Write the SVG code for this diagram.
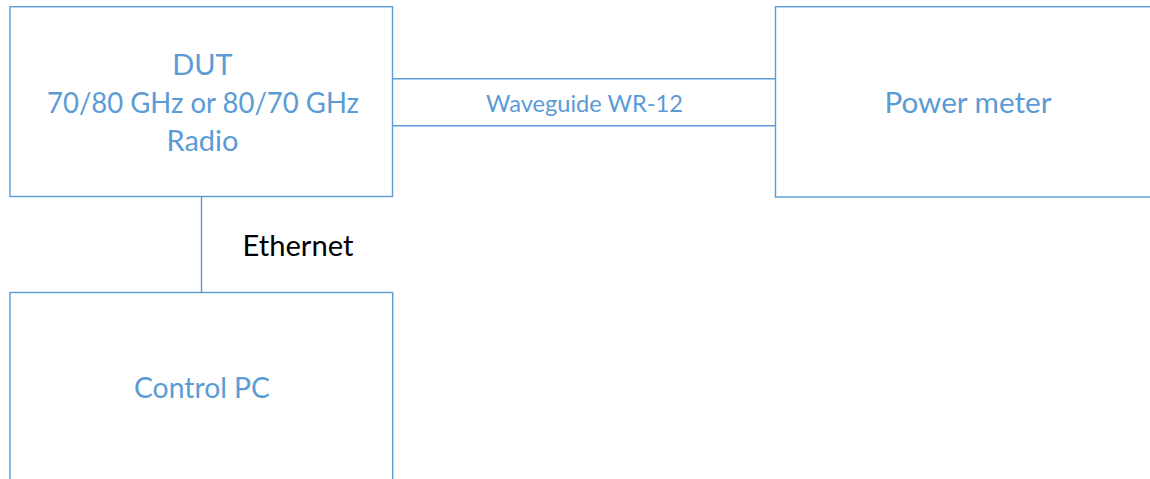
<svg xmlns="http://www.w3.org/2000/svg" width="1150" height="479" viewBox="0 0 1150 479">
  <style>
    .box { fill: #ffffff; stroke: #5B9BD5; stroke-width: 1.4; }
    .wire { fill: none; stroke: #5B9BD5; stroke-width: 1.4; }
    .lbl { font-family: Lato, "Open Sans", "Liberation Sans", sans-serif; fill: #5B9BD5; text-anchor: middle; }
    .big { font-size: 29px; }
    .small { font-size: 24px; }
    .dark { fill: #000000; }
  </style>
  <rect width="1150" height="479" fill="#ffffff"/>

  <!-- connectors -->
  <g id="connectors">
    <path class="wire" d="M392,78.7 H775.5 M392,125.7 H775.5"/>
    <path class="wire" d="M201.5,196.5 V292.5"/>
    <text class="lbl small" x="584.5" y="111.5" textLength="197" lengthAdjust="spacingAndGlyphs">Waveguide WR-12</text>
    <text class="lbl big dark" x="298" y="256" textLength="111" lengthAdjust="spacingAndGlyphs">Ethernet</text>
  </g>

  <!-- device under test -->
  <g id="dut">
    <rect class="box" x="10" y="6.7" width="382.5" height="189.8"/>
    <text class="lbl big" x="202.5" y="75">DUT</text>
    <text class="lbl big" x="203" y="112.5" textLength="312" lengthAdjust="spacingAndGlyphs">70/80 GHz or 80/70 GHz</text>
    <text class="lbl big" x="202.5" y="151">Radio</text>
  </g>

  <!-- power meter, runs off the right edge -->
  <g id="power-meter">
    <rect class="box" x="775.5" y="6.7" width="400" height="190.3"/>
    <text class="lbl big" x="968" y="112.5" textLength="167" lengthAdjust="spacingAndGlyphs">Power meter</text>
  </g>

  <!-- control PC, runs off the bottom edge -->
  <g id="control-pc">
    <rect class="box" x="10" y="292.5" width="382.7" height="220"/>
    <text class="lbl big" x="202" y="398.3" textLength="136" lengthAdjust="spacingAndGlyphs">Control PC</text>
  </g>
</svg>
